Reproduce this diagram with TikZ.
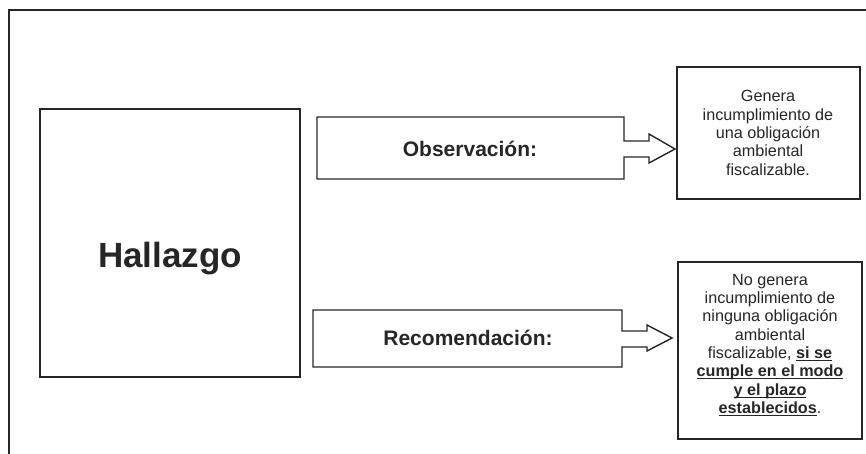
\documentclass[tikz,border=0pt]{standalone}
\usepackage{fontspec}
\setmainfont{Liberation Sans}
\newcommand\myul[1]{\setbox0\hbox{#1}\rlap{\rule[-2.6pt]{\wd0}{1pt}}\box0}
\begin{document}
\begin{tikzpicture}[x=1pt,y=-1pt,
  frame/.style={line width=1.4pt,draw=black!85},
  box/.style={line width=1.4pt,draw=black!85},
  bigtxt/.style={font=\fontsize{35pt}{40pt}\selectfont\bfseries,text=black!85,inner sep=0pt},
  midtxt/.style={font=\fontsize{21pt}{24pt}\selectfont\bfseries,text=black!85,inner sep=0pt},
  smalltxt/.style={font=\fontsize{16.2pt}{18.3pt}\selectfont,text=black!85,align=center,inner sep=0pt}]
\useasboundingbox (0,0) rectangle (866,454);
% outer frame (open at right and bottom)
\draw[frame] (9,454) -- (9,10) -- (866,10);
% Hallazgo box
\draw[box] (40,109) rectangle (300,377);
\node[bigtxt,anchor=base] (hallazgo) at (170,267) {Hallazgo};
% Observacion arrow
\draw[box,line join=miter] (317,117) -- (624,117) -- (624,141) -- (649,141) -- (649,134) -- (675,149)
  -- (649,163) -- (649,157) -- (624,157) -- (624,179) -- (317,179) -- cycle;
\node[midtxt] (obs) at (470,149) {Observación:};
% Recomendacion arrow
\draw[box,line join=miter] (313,310) -- (622,310) -- (622,331) -- (647,331) -- (647,325) -- (672,338)
  -- (647,351) -- (647,347) -- (622,347) -- (622,367) -- (313,367) -- cycle;
\node[midtxt] (rec) at (468,338) {Recomendación:};
% right boxes
\draw[box] (677,67) rectangle (860,199);
\node[smalltxt] (gen) at (768,133) {Genera\\incumplimiento de\\una obligación\\ambiental\\fiscalizable.};
\draw[box] (678,262) rectangle (862,439);
\node[smalltxt] (nogen) at (770,345) {No genera\\incumplimiento de\\ninguna obligación\\ambiental\\fiscalizable, \myul{\textbf{si se}}\\\myul{\textbf{cumple en el modo}}\\\myul{\textbf{y el plazo}}\\\myul{\textbf{establecidos}}.};
\end{tikzpicture}
\end{document}
